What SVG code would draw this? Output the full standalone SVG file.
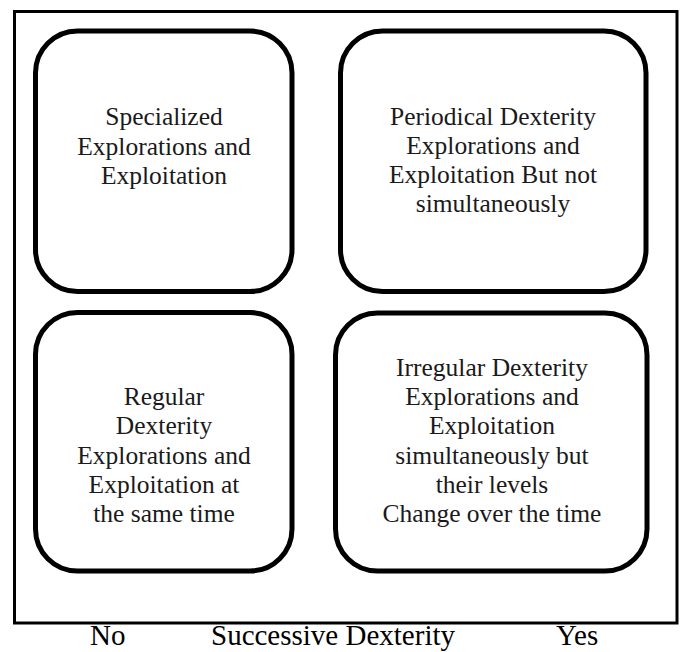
<svg xmlns="http://www.w3.org/2000/svg" width="684" height="652" viewBox="0 0 684 652">
<style>
.frame{fill:none;stroke:#000;stroke-width:3}
.box{fill:#fff;stroke:#000;stroke-width:5}
.t{font-family:"Liberation Serif","Times New Roman",serif;font-size:25.5px;fill:#1a1a1a;text-anchor:middle}
.b{font-family:"Liberation Serif","Times New Roman",serif;font-size:29px;fill:#000}
</style>
<rect width="684" height="652" fill="#fff"/>
<rect class="frame" x="14.5" y="11.5" width="662.5" height="611.5"/>
<g id="node-specialized">
<rect class="box" x="35.5" y="31" width="256.5" height="260.5" rx="42"/>
<text class="t" x="164" y="125">Specialized</text>
<text class="t" x="164" y="154.5">Explorations and</text>
<text class="t" x="164" y="184">Exploitation</text>
</g>
<g id="node-periodical">
<rect class="box" x="340.5" y="31" width="305.5" height="260.5" rx="42"/>
<text class="t" x="493" y="125">Periodical Dexterity</text>
<text class="t" x="493" y="154">Explorations and</text>
<text class="t" x="493" y="183">Exploitation But not</text>
<text class="t" x="493" y="212">simultaneously</text>
</g>
<g id="node-regular">
<rect class="box" x="35.5" y="312.5" width="256.5" height="258.5" rx="42"/>
<text class="t" x="164" y="405">Regular</text>
<text class="t" x="164" y="434">Dexterity</text>
<text class="t" x="164" y="463.5">Explorations and</text>
<text class="t" x="164" y="493">Exploitation at</text>
<text class="t" x="164" y="522">the same time</text>
</g>
<g id="node-irregular">
<rect class="box" x="335.5" y="313" width="311.5" height="258" rx="42"/>
<text class="t" x="492" y="376">Irregular Dexterity</text>
<text class="t" x="492" y="405">Explorations and</text>
<text class="t" x="492" y="434">Exploitation</text>
<text class="t" x="492" y="463.5">simultaneously but</text>
<text class="t" x="492" y="493">their levels</text>
<text class="t" x="492" y="522">Change over the time</text>
</g>
<g id="connectors"></g>
<g id="axis-label">
<text class="b" x="90" y="645">No</text>
<text class="b" x="211" y="645">Successive Dexterity</text>
<text class="b" x="556" y="645">Yes</text>
</g>
</svg>
